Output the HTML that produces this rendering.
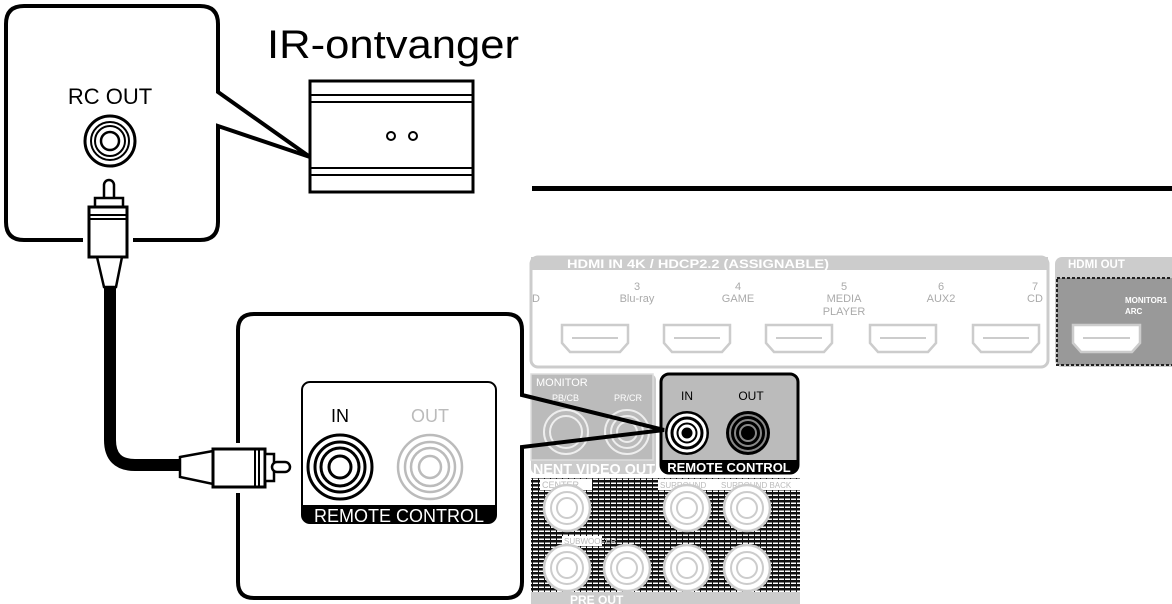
<!DOCTYPE html>
<html><head><meta charset="utf-8"><style>
html,body{margin:0;padding:0;background:#fff;}
svg{display:block;font-family:"Liberation Sans",Arial,sans-serif;}
</style></head><body>
<svg width="1172" height="604" viewBox="0 0 1172 604" xmlns="http://www.w3.org/2000/svg">
<defs>
<pattern id="hatch" width="6" height="4" patternUnits="userSpaceOnUse">
<rect width="6" height="4" fill="#fff"/><rect width="6" height="2.5" fill="#111"/><rect x="4" width="1" height="4" fill="#111"/>
</pattern>
</defs>

<path d="M83,240 H24 Q6,240 6,222 V24 Q6,6 24,6 H200 Q218,6 218,24 V92 L310,157 L218,126 V222 Q218,240 200,240 H133" fill="none" stroke="#000" stroke-width="4"/>
<text x="110" y="104" font-size="22" text-anchor="middle">RC OUT</text>
<circle cx="110" cy="141" r="25" fill="#fff" stroke="#000" stroke-width="3"/>
<circle cx="110" cy="141" r="19" fill="none" stroke="#000" stroke-width="2"/>
<circle cx="110" cy="141" r="15" fill="none" stroke="#000" stroke-width="2"/>
<circle cx="110" cy="141" r="9" fill="none" stroke="#000" stroke-width="2.5"/>

<rect x="104" y="180" width="10" height="22" rx="5" fill="#fff" stroke="#000" stroke-width="2.5"/>
<rect x="95" y="198" width="28" height="9" fill="#fff" stroke="#000" stroke-width="2.5"/>
<rect x="89" y="207" width="38" height="50" fill="#fff" stroke="#000" stroke-width="3"/>
<line x1="89" y1="215" x2="127" y2="215" stroke="#000" stroke-width="2"/>
<line x1="89" y1="219" x2="127" y2="219" stroke="#000" stroke-width="2"/>
<path d="M97,257 L104,287 H116 L122,257 Z" fill="#fff" stroke="#000" stroke-width="2.5"/>

<path d="M110,288 V440 Q110,465 135,465 H182" fill="none" stroke="#000" stroke-width="12"/>

<path d="M180,457 L213,451 V484 L180,477 Z" fill="#fff" stroke="#000" stroke-width="2.5"/>
<rect x="213" y="449" width="52" height="38" fill="#fff" stroke="#000" stroke-width="3"/>
<line x1="255" y1="449" x2="255" y2="487" stroke="#000" stroke-width="2"/>
<line x1="259" y1="449" x2="259" y2="487" stroke="#000" stroke-width="2"/>
<rect x="265" y="454" width="9" height="27" fill="#fff" stroke="#000" stroke-width="2.5"/>
<rect x="272" y="462" width="18" height="10" rx="5" fill="#fff" stroke="#000" stroke-width="2.5"/>

<text x="267" y="58" font-size="40" textLength="252" lengthAdjust="spacingAndGlyphs">IR-ontvanger</text>
<rect x="310" y="81" width="163" height="111" fill="#fff" stroke="#000" stroke-width="3"/>
<line x1="310" y1="95" x2="473" y2="95" stroke="#000" stroke-width="2"/>
<line x1="310" y1="102" x2="473" y2="102" stroke="#000" stroke-width="2"/>
<line x1="310" y1="168" x2="473" y2="168" stroke="#000" stroke-width="2"/>
<line x1="310" y1="175" x2="473" y2="175" stroke="#000" stroke-width="2"/>
<circle cx="391" cy="136" r="4" fill="none" stroke="#000" stroke-width="2"/>
<circle cx="413" cy="136" r="4" fill="none" stroke="#000" stroke-width="2"/>

<rect x="532" y="186" width="640" height="5" fill="#000"/>

<rect x="531" y="257" width="517" height="110" rx="7" fill="#fff" stroke="#ccc" stroke-width="3"/>
<rect x="531" y="257" width="517" height="13" fill="#ccc"/>
<text x="567" y="268" font-size="11.5" font-weight="bold" fill="#fff" textLength="262" lengthAdjust="spacingAndGlyphs">HDMI IN 4K / HDCP2.2 (ASSIGNABLE)</text>
<g font-size="11" fill="#aaa" text-anchor="middle">
<text x="536" y="302">D</text>
<text x="637" y="290">3</text><text x="637" y="302">Blu-ray</text>
<text x="738" y="290">4</text><text x="738" y="302">GAME</text>
<text x="844" y="290">5</text><text x="844" y="302">MEDIA</text><text x="844" y="315">PLAYER</text>
<text x="941" y="290">6</text><text x="941" y="302">AUX2</text>
<text x="1035" y="290">7</text><text x="1035" y="302">CD</text>
</g>
<g fill="#fff" stroke="#ccc" stroke-width="2.5">
<path d="M562,325 H628 V343 L620,352 H570 L562,343 Z"/>
<path d="M664,325 H730 V343 L722,352 H672 L664,343 Z"/>
<path d="M766,325 H832 V343 L824,352 H774 L766,343 Z"/>
<path d="M870,325 H936 V343 L928,352 H878 L870,343 Z"/>
<path d="M973,325 H1039 V343 L1031,352 H981 L973,343 Z"/>
</g>
<g stroke="#ccc" stroke-width="2"><line x1="572" y1="338" x2="618" y2="338"/><line x1="674" y1="338" x2="720" y2="338"/><line x1="776" y1="338" x2="822" y2="338"/><line x1="880" y1="338" x2="926" y2="338"/><line x1="983" y1="338" x2="1029" y2="338"/></g>

<rect x="1055" y="257" width="125" height="110" rx="7" fill="#ccc"/>
<rect x="1057" y="278" width="120" height="87" fill="#999" stroke="#222" stroke-width="2" stroke-dasharray="3,2"/>
<text x="1068" y="268" font-size="11.5" font-weight="bold" fill="#fff">HDMI OUT</text>
<text x="1125" y="303" font-size="8" font-weight="bold" fill="#fff">MONITOR1</text>
<text x="1125" y="314" font-size="8" font-weight="bold" fill="#fff">ARC</text>
<path d="M1073,325 H1140 V343 L1132,352 H1081 L1073,343 Z" fill="#fff" stroke="#ccc" stroke-width="2.5"/>
<line x1="1083" y1="338" x2="1130" y2="338" stroke="#ccc" stroke-width="2"/>

<rect x="531" y="374" width="125" height="100" rx="6" fill="#ccc"/>
<rect x="531" y="374" width="122" height="86" fill="#bbb" stroke="#ddd" stroke-width="1.5"/>
<text x="536" y="386" font-size="11" fill="#fff">MONITOR</text>
<text x="552" y="401" font-size="9" fill="#fff">PB/CB</text>
<text x="614" y="401" font-size="9" fill="#fff">PR/CR</text>
<g fill="none" stroke="#eee" stroke-width="2">
<circle cx="566" cy="432" r="22"/><circle cx="566" cy="432" r="16"/>
<circle cx="627" cy="432" r="22"/><circle cx="627" cy="432" r="16"/><circle cx="627" cy="432" r="10"/>
</g>
<text x="533" y="474" font-size="15" font-weight="bold" fill="#fff" textLength="122" lengthAdjust="spacingAndGlyphs">NENT VIDEO OUT</text>

<rect x="531" y="478" width="269" height="126" fill="url(#hatch)"/>
<rect x="531" y="592" width="269" height="12" fill="#ccc"/>
<text x="570" y="604" font-size="12" font-weight="bold" fill="#fff">PRE OUT</text>
<rect x="540" y="479" width="52" height="11" fill="#fff"/>
<text x="542" y="488" font-size="9" fill="#bbb">CENTER</text>
<rect x="658" y="479" width="142" height="11" fill="#fff"/>
<text x="660" y="488" font-size="8" fill="#bbb">SURROUND</text>
<text x="721" y="488" font-size="8" fill="#bbb">SURROUND BACK</text>
<rect x="562" y="536" width="40" height="10" fill="#fff"/>
<text x="564" y="544" font-size="8" fill="#bbb">SUBWOOFER</text>
<g fill="#fff" stroke="#ccc" stroke-width="2.5">
<circle cx="567" cy="508" r="23"/><circle cx="687" cy="508" r="23"/><circle cx="747" cy="508" r="23"/>
<circle cx="567" cy="568" r="23"/><circle cx="627" cy="568" r="23"/><circle cx="687" cy="568" r="23"/><circle cx="747" cy="568" r="23"/>
</g>
<g fill="none" stroke="#ccc" stroke-width="2">
<circle cx="567" cy="508" r="16"/><circle cx="567" cy="508" r="10"/>
<circle cx="687" cy="508" r="16"/><circle cx="687" cy="508" r="10"/>
<circle cx="747" cy="508" r="16"/><circle cx="747" cy="508" r="10"/>
<circle cx="567" cy="568" r="16"/><circle cx="567" cy="568" r="10"/>
<circle cx="627" cy="568" r="16"/><circle cx="627" cy="568" r="10"/>
<circle cx="687" cy="568" r="16"/><circle cx="687" cy="568" r="10"/>
<circle cx="747" cy="568" r="16"/><circle cx="747" cy="568" r="10"/>
</g>

<rect x="661" y="374" width="137" height="99" rx="8" fill="#bbb" stroke="#000" stroke-width="3"/>
<path d="M661,460 H798 V465 Q798,473 790,473 H669 Q661,473 661,465 Z" fill="#000"/>
<text x="729" y="472" font-size="13" font-weight="bold" fill="#fff" text-anchor="middle">REMOTE CONTROL</text>
<text x="687" y="400" font-size="12" text-anchor="middle">IN</text>
<text x="751" y="400" font-size="12" text-anchor="middle">OUT</text>
<circle cx="687" cy="433" r="22" fill="#000"/>
<g fill="none" stroke="#fff" stroke-width="3"><circle cx="687" cy="433" r="18"/><circle cx="687" cy="433" r="12"/><circle cx="687" cy="433" r="7"/></g>
<circle cx="748" cy="433" r="22" fill="#000"/>
<g fill="none" stroke="#888" stroke-width="2"><circle cx="748" cy="433" r="18"/><circle cx="748" cy="433" r="13"/><circle cx="748" cy="433" r="8"/></g>

<path d="M238,443 V330 Q238,314 254,314 H506 Q522,314 522,330 V395 L664,430 L522,447 V582 Q522,598 506,598 H254 Q238,598 238,582 V493" fill="none" stroke="#000" stroke-width="4"/>
<rect x="302" y="382" width="194" height="141" rx="8" fill="#fff" stroke="#000" stroke-width="2"/>
<path d="M302,505 H496 V515 Q496,523 488,523 H310 Q302,523 302,515 Z" fill="#000"/>
<text x="399" y="522" font-size="18" fill="#fff" text-anchor="middle">REMOTE CONTROL</text>
<text x="340" y="422" font-size="18" text-anchor="middle">IN</text>
<text x="430" y="422" font-size="18" fill="#bbb" text-anchor="middle">OUT</text>
<g fill="none" stroke="#000" stroke-width="3"><circle cx="340" cy="467" r="32"/><circle cx="340" cy="467" r="25"/><circle cx="340" cy="467" r="19"/><circle cx="340" cy="467" r="11"/></g>
<g fill="none" stroke="#bbb" stroke-width="2.5"><circle cx="430" cy="467" r="32"/><circle cx="430" cy="467" r="25"/><circle cx="430" cy="467" r="19"/><circle cx="430" cy="467" r="11"/></g>
</svg>
</body></html>
